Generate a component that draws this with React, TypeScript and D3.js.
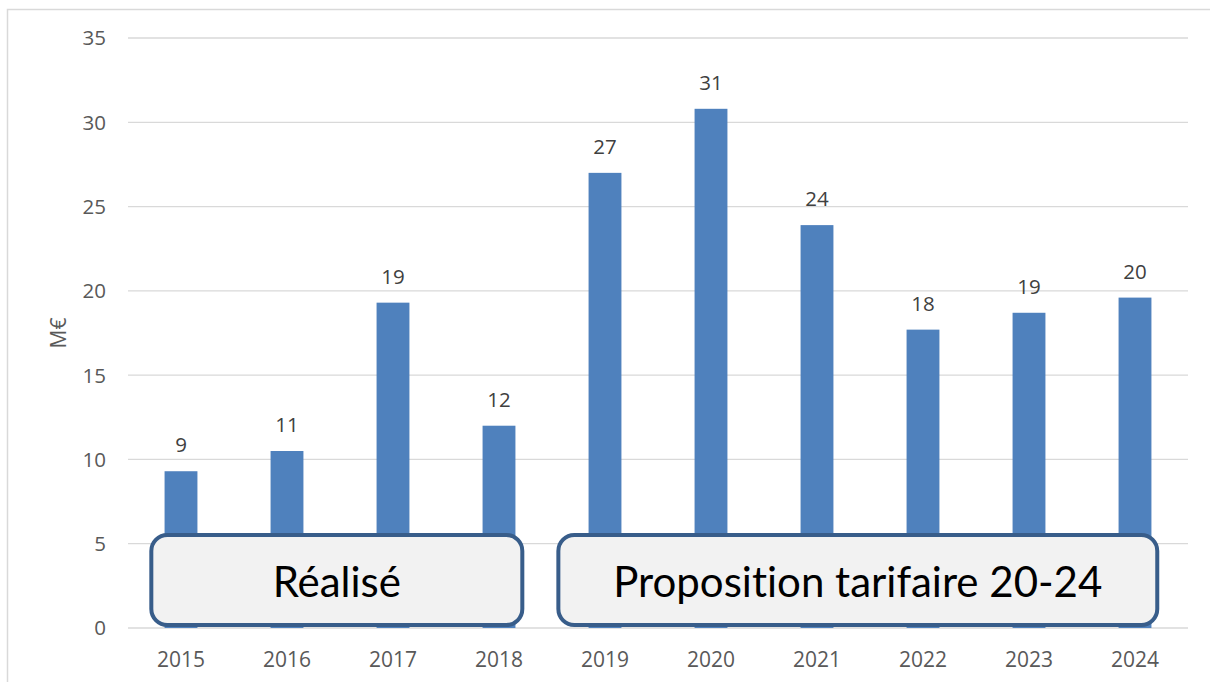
import React from "react";
import * as d3 from "d3";

const categories = ["2015", "2016", "2017", "2018", "2019", "2020", "2021", "2022", "2023", "2024"];
const values = [9.3, 10.5, 19.3, 12.0, 27.0, 30.8, 23.9, 17.7, 18.7, 19.6];
const valueLabels = ["9", "11", "19", "12", "27", "31", "24", "18", "19", "20"];
const yTicks = [0, 5, 10, 15, 20, 25, 30, 35];
const yTitle = "M€";
const groupLabels = ["Réalisé", "Proposition tarifaire 20-24"];
const groupFrom = ["2015", "2019"];
const groupTo = ["2018", "2024"];

const W = 1210;
const H = 682;
const left = 128;
const right = 1188;
const top = 38;
const bottom = 628;
// box extents relative to the first/last bar centre, as fractions of a band step
const boxPadLeft = [0.28, 0.44];
const boxPadRight = [0.22, 0.21];

export default function App() {
  const x = d3.scaleBand<string>().domain(categories).range([left, right]).paddingInner(0.69).paddingOuter(0.345);
  const y = d3.scaleLinear().domain([0, 35]).range([bottom, top]);
  const axisFont = "'Open Sans', sans-serif";
  const step = x.step();
  const cx = (c: string) => x(c)! + x.bandwidth() / 2;

  return (
    <svg width={W} height={H} style={{ position: "absolute", left: 0, top: 0, display: "block" }}>
      <rect x={0} y={0} width={W} height={H} fill="#ffffff" />
      <rect x={7.5} y={9.5} width={W + 20} height={H + 20} fill="none" stroke="#D9D9D9" strokeWidth={1.5} />
      {yTicks.map((t) => (
        <g key={t}>
          <line x1={left} x2={right} y1={y(t)} y2={y(t)} stroke="#D9D9D9" strokeWidth={1.3} />
          <text x={106} y={y(t)} dy="0.36em" textAnchor="end" fontFamily={axisFont} fontSize={20.5} fill="#595959">
            {t}
          </text>
        </g>
      ))}
      <text
        transform={`translate(${58},${y(17.5)}) rotate(-90)`}
        textAnchor="middle"
        dy="0.36em"
        fontFamily={axisFont}
        fontSize={21}
        fill="#595959"
      >
        {yTitle}
      </text>
      {categories.map((c, i) => (
        <g key={c}>
          <rect x={x(c)!} y={y(values[i])} width={x.bandwidth()} height={y(0) - y(values[i])} fill="#4F81BD" />
          <text x={cx(c)} y={y(values[i]) - 19} textAnchor="middle" fontFamily={axisFont} fontSize={20.5} fill="#404040">
            {valueLabels[i]}
          </text>
          <text x={cx(c)} y={667} textAnchor="middle" fontFamily={axisFont} fontSize={21} fill="#595959">
            {c}
          </text>
        </g>
      ))}
      {groupLabels.map((label, gi) => {
        const x0 = cx(groupFrom[gi]) - step * boxPadLeft[gi];
        const x1 = cx(groupTo[gi]) + step * boxPadRight[gi];
        const y0 = 535;
        const y1 = 625;
        return (
          <g key={label}>
            <rect
              x={x0}
              y={y0}
              width={x1 - x0}
              height={y1 - y0}
              rx={16}
              ry={16}
              fill="#F2F2F2"
              stroke="#385D8A"
              strokeWidth={4}
            />
            <text
              x={(x0 + x1) / 2}
              y={(y0 + y1) / 2 + 2}
              dy="0.35em"
              textAnchor="middle"
              fontFamily="Lato, sans-serif"
              fontSize={42}
              fill="#000000"
              style={{ fontVariantLigatures: "none", fontFeatureSettings: "'liga' 0, 'clig' 0" }}
            >
              {label}
            </text>
          </g>
        );
      })}
    </svg>
  );
}
